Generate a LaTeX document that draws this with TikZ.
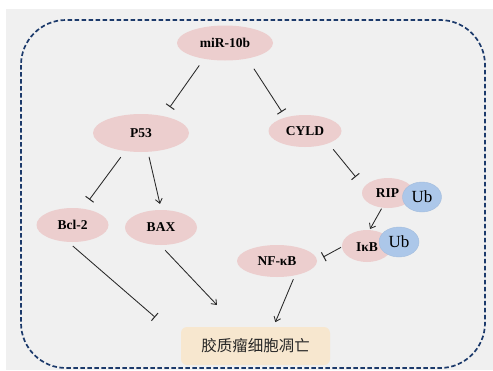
\documentclass[tikz,border=0pt]{standalone}
\usepackage{fontspec}
\setmainfont{Liberation Serif}
\newfontfamily\cjkfont{Noto Sans CJK SC}
\usetikzlibrary{shapes.geometric,arrows.meta}
\definecolor{bggray}{RGB}{240,240,240}
\definecolor{pinkfill}{RGB}{236,206,206}
\definecolor{ubblue}{RGB}{172,199,233}
\definecolor{boxfill}{RGB}{247,231,207}
\definecolor{navy}{RGB}{28,58,107}
\definecolor{linegray}{RGB}{40,40,40}
\tikzset{
  gene/.style={ellipse, fill=pinkfill, inner sep=0pt, font=\fontsize{13.5}{15}\selectfont\bfseries},
  ubq/.style={ellipse, fill=ubblue, draw=ubblue!95!black, line width=0.4pt, inner sep=0pt, font=\fontsize{17}{19}\selectfont},
  act/.style={linegray, line width=0.85pt, -{Straight Barb[length=4.5pt,width=7pt]}},
  inh/.style={linegray, line width=0.85pt, -{Bar[width=10pt,line width=1pt]}},
}

\begin{document}
\begin{tikzpicture}[x=1pt, y=-1pt]
\useasboundingbox (0,0) rectangle (493,370);
\fill[bggray] (6,9) rectangle (493,370);
\draw[navy, line width=1.7pt, dash pattern=on 4.5pt off 2.5pt, rounded corners=45pt] (21,20) rectangle (485,368);
\node[gene, minimum width=96pt, minimum height=35pt] (mir) at (225,43) {miR-10b};
\node[gene, minimum width=96pt, minimum height=38pt] (p53) at (141,133) {P53};
\node[gene, minimum width=73pt, minimum height=32pt] (cyld) at (305,131) {CYLD};
\node[gene, minimum width=52pt, minimum height=30pt] (rip) at (388,193) {};
\node[gene, minimum width=50pt, minimum height=32pt] (ikb) at (367,246) {};
\node[gene, minimum width=80pt, minimum height=32pt] (nfkb) at (277,261) {NF-κB};
\node[gene, minimum width=72pt, minimum height=34pt] (bcl) at (72.5,225) {Bcl-2};
\node[gene, minimum width=72pt, minimum height=35pt] (bax) at (161,227.5) {BAX};
\node[ubq, minimum width=39pt, minimum height=30pt] (ubr) at (422,197) {Ub};
\node[ubq, minimum width=40pt, minimum height=30pt] (ubi) at (399,242) {Ub};
\node[font=\fontsize{13.5}{15}\selectfont\bfseries] (riplabel) at (387.5,193) {RIP};
\node[font=\fontsize{13.5}{15}\selectfont\bfseries] (ikblabel) at (367,247) {IκB};
\node[rectangle, rounded corners=6pt, fill=boxfill, minimum width=149pt, minimum height=38pt, font=\cjkfont\fontsize{15.5}{17}\selectfont, text=black!85] (apop) at (255.5,346) {胶质瘤细胞凋亡};
\draw[inh, shorten <=8pt, shorten >=11pt] (mir.217) -- (p53.37);
\draw[inh, shorten <=12pt, shorten >=6.5pt] (mir.325) -- (cyld.145);
\draw[inh, shorten <=7.5pt, shorten >=13pt] (cyld.332) -- (rip.166);
\draw[inh, shorten <=7.5pt, shorten >=11pt] (p53.229) -- (bcl.58);
\draw[act, shorten <=5pt, shorten >=6pt] (p53.290) -- (bax.89);
\draw[act, shorten <=1pt, shorten >=1pt] (rip.248) -- (ikb.81);
\draw[inh, shorten <=1pt, shorten >=7pt] (ikb.182) -- (nfkb.1);
\draw[inh, shorten <=6pt, shorten >=34pt] (bcl.256) -- (apop.175);
\draw[act, shorten <=7pt, shorten >=30pt] (bax.268) -- (apop.133);
\draw[act, shorten <=4pt, shorten >=5pt] (nfkb.321) -- (apop.47);
\end{tikzpicture}
\end{document}
